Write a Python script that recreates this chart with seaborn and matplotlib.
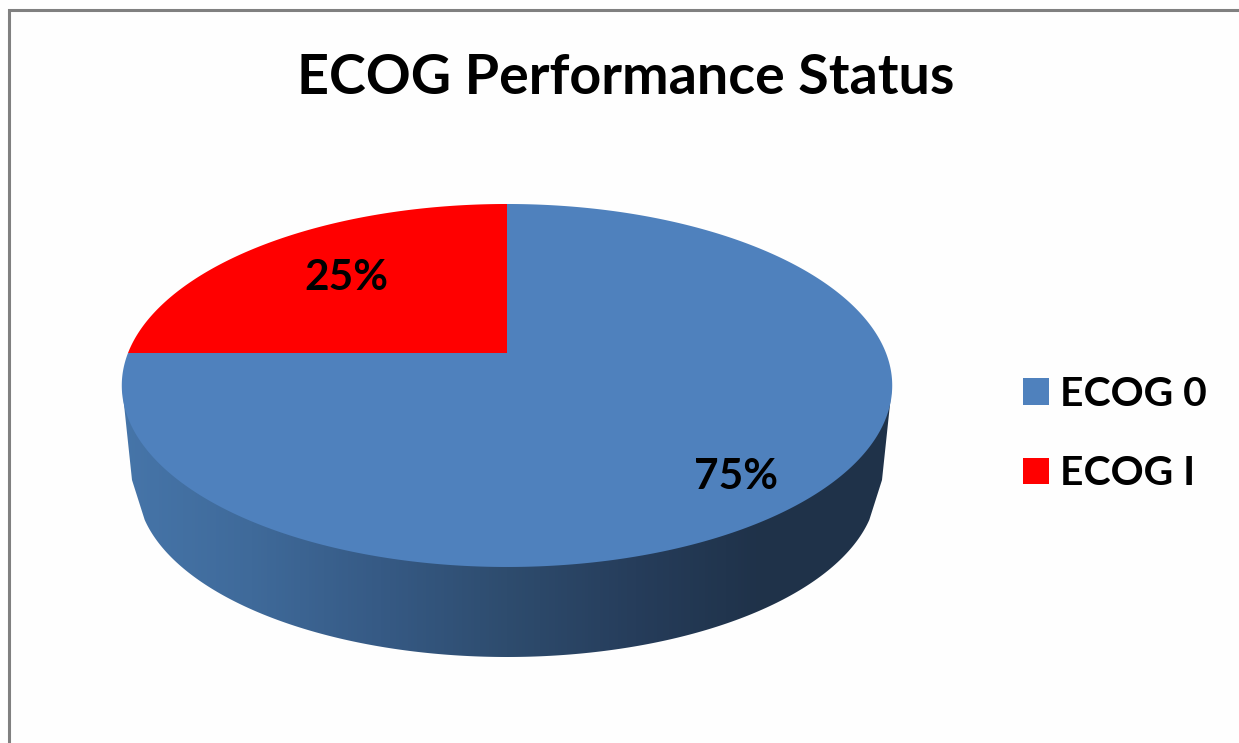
import numpy as np
import matplotlib
matplotlib.use('Agg')
import matplotlib.pyplot as plt
from matplotlib.patches import Polygon, Patch
import seaborn as sns

# chart values
title = 'ECOG Performance Status'
labels = ['ECOG 0', 'ECOG I']
values = [75, 25]
colors = ['#4f81bd', '#ff0000']
side_colors = ['#4675a9', '#3f6a9a', '#365a85', '#2e4c6e', '#263d5b', '#1f3249', '#1f3249']

sns.set_theme(style='white')
plt.rcParams['font.family'] = ['Lato', 'DejaVu Sans']

W, H = 1239, 743
CX, CY = 507, 385.5      # centre of the top ellipse (pixels)
A, B, K = 379, 181.5, 0.179  # perspective of the disc
PIVOT = 32.5


def disc_to_px(x, y):
    """Map points of the unit disc onto the tilted top face, in pixels."""
    w = 1 + K * y
    return CX + A * x / w, CY - (B * y + PIVOT) / w


def wedge_points(start, sweep):
    """Outline of one slice, clockwise from start (degrees)."""
    th = np.radians(np.linspace(start, start - sweep, max(int(abs(sweep)) * 2, 2)))
    xs = np.r_[0, np.cos(th)]
    ys = np.r_[0, np.sin(th)]
    return np.column_stack(disc_to_px(xs, ys))


fig = plt.figure(figsize=(W / 100, H / 100), dpi=100, facecolor='#fefefe')
ax = fig.add_axes([0, 0, 1, 1])

# side of the disc, a horizontal gradient clipped to the rim outline
t = np.radians(np.linspace(191.7, 348.3, 200))
rim = np.column_stack([CX + 370 * np.cos(t), 485 - 172 * np.sin(t)])
rim = np.vstack([[CX - 385, CY], [CX - 375, 480], rim, [CX + 375, 480], [CX + 385, CY]])
rim_patch = Polygon(rim, closed=True, fc='none', ec='none')
ax.add_patch(rim_patch)
cmap = sns.blend_palette(side_colors, as_cmap=True)
grad = np.linspace(0, 1, 256).reshape(1, -1)
im = ax.imshow(grad, cmap=cmap, aspect='auto', extent=(122, 892, 657, 204), interpolation='bilinear')
im.set_clip_path(rim_patch)

# top face
start = 90
handles = []
for label, value, color in zip(labels, values, colors):
    sweep = 360 * value / sum(values)
    ax.add_patch(Polygon(wedge_points(start, sweep), closed=True, fc=color, ec='none', zorder=3))
    handles.append(Patch(fc=color, ec='none', label=label))
    start -= sweep

ax.text(736, 477, f'{values[0]}%', ha='center', va='center', fontsize=30.5, fontweight='bold', color='black', zorder=4)
ax.text(346, 278, f'{values[1]}%', ha='center', va='center', fontsize=30.5, fontweight='bold', color='black', zorder=4)

# chart frame, cut off by the image on the right and bottom
ax.plot([8.5, 8.5, W + 5], [H + 5, 9.5, 9.5], color='#808080', lw=2.2, solid_joinstyle='miter', zorder=5)

ax.text(625.5, 78, title, ha='center', va='center', fontsize=40.1, fontweight='bold', color='black')

ax.legend(handles=handles, loc='center left', bbox_to_anchor=(1023 / W, 1 - 434 / H),
          frameon=False, handlelength=0.637, handleheight=0.637,
          handletextpad=0.27, labelspacing=1.045, borderpad=0, borderaxespad=0,
          labelcolor='black', prop={'weight': 'bold', 'size': 29.4})

ax.set_xlim(0, W)
ax.set_ylim(H, 0)
ax.axis('off')

plt.savefig('out.png', dpi=100, facecolor=fig.get_facecolor())
